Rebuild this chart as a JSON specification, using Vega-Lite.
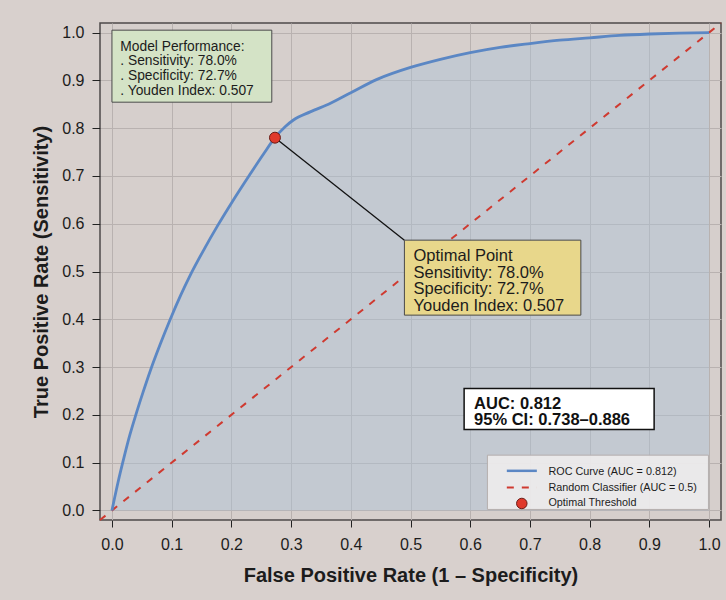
{
  "$schema": "https://vega.github.io/schema/vega-lite/v6.json",
  "width": 621,
  "height": 497,
  "autosize": {"type": "none"},
  "padding": {"left": 100, "top": 23, "right": 5, "bottom": 80},
  "background": "#d8d0cd",
  "datasets": {
    "roc": [
      {"fpr": 0, "tpr": 0},
      {"fpr": 0.01, "tpr": 0.058},
      {"fpr": 0.02, "tpr": 0.11},
      {"fpr": 0.03, "tpr": 0.158},
      {"fpr": 0.04, "tpr": 0.2},
      {"fpr": 0.052, "tpr": 0.247},
      {"fpr": 0.065, "tpr": 0.295},
      {"fpr": 0.08, "tpr": 0.345},
      {"fpr": 0.097, "tpr": 0.398},
      {"fpr": 0.115, "tpr": 0.45},
      {"fpr": 0.131, "tpr": 0.492},
      {"fpr": 0.155, "tpr": 0.548},
      {"fpr": 0.177, "tpr": 0.596},
      {"fpr": 0.2, "tpr": 0.643},
      {"fpr": 0.231, "tpr": 0.703},
      {"fpr": 0.255, "tpr": 0.748},
      {"fpr": 0.273, "tpr": 0.78},
      {"fpr": 0.29, "tpr": 0.803},
      {"fpr": 0.304, "tpr": 0.817},
      {"fpr": 0.332, "tpr": 0.834},
      {"fpr": 0.366, "tpr": 0.852},
      {"fpr": 0.4, "tpr": 0.874},
      {"fpr": 0.444, "tpr": 0.902},
      {"fpr": 0.5, "tpr": 0.927},
      {"fpr": 0.55, "tpr": 0.944},
      {"fpr": 0.6, "tpr": 0.958},
      {"fpr": 0.65, "tpr": 0.969},
      {"fpr": 0.7, "tpr": 0.977},
      {"fpr": 0.75, "tpr": 0.984},
      {"fpr": 0.8, "tpr": 0.989},
      {"fpr": 0.85, "tpr": 0.994},
      {"fpr": 0.9, "tpr": 0.997},
      {"fpr": 0.95, "tpr": 0.999},
      {"fpr": 1.0, "tpr": 1.0}
    ],
    "optimal": [{"fpr": 0.273, "tpr": 0.78}],
    "one": [{}]
  },
  "config": {
    "font": "Liberation Sans",
    "view": {"fill": "#d6cfcc", "stroke": "#4d4a49", "strokeWidth": 1.5},
    "axis": {
      "domain": false,
      "grid": true,
      "gridColor": "#b9b2b0",
      "gridWidth": 1,
      "tickColor": "#222222",
      "tickWidth": 1,
      "labelFont": "Liberation Sans",
      "labelFontSize": 16,
      "labelColor": "#1c1c1c",
      "titleFont": "Liberation Sans",
      "titleFontSize": 20,
      "titleFontWeight": "bold",
      "titleColor": "#1c1c1c"
    }
  },
  "layer": [
    {
      "data": {"name": "roc"},
      "mark": {"type": "area", "interpolate": "monotone", "color": "#adc2d7", "opacity": 0.45},
      "encoding": {
        "x": {
          "field": "fpr", "type": "quantitative",
          "scale": {"domain": [-0.02, 1.02], "nice": false, "zero": false},
          "axis": {
            "title": "False Positive Rate (1 – Specificity)",
            "values": [0, 0.1, 0.2, 0.3, 0.4, 0.5, 0.6, 0.7, 0.8, 0.9, 1.0],
            "format": ".1f", "tickSize": 7, "labelPadding": 9, "titlePadding": 13,
            "labelFlush": false, "labelOverlap": false
          }
        },
        "y": {
          "field": "tpr", "type": "quantitative",
          "scale": {"domain": [-0.02, 1.02], "nice": false, "zero": false},
          "axis": {
            "title": "True Positive Rate (Sensitivity)",
            "values": [0, 0.1, 0.2, 0.3, 0.4, 0.5, 0.6, 0.7, 0.8, 0.9, 1.0],
            "format": ".1f", "tickSize": 8, "labelPadding": 8, "titlePadding": 10,
            "labelFlush": false, "labelOverlap": false
          }
        }
      }
    },
    {
      "data": {"name": "one"},
      "mark": {"type": "rule", "strokeDash": [7, 8], "strokeWidth": 2, "color": "#cf3a30"},
      "encoding": {
        "x": {"datum": -0.02, "type": "quantitative"},
        "y": {"datum": -0.02, "type": "quantitative"},
        "x2": {"datum": 1.02},
        "y2": {"datum": 1.02}
      }
    },
    {
      "data": {"name": "roc"},
      "mark": {"type": "line", "interpolate": "monotone", "color": "#5b87c4", "strokeWidth": 2.8},
      "encoding": {
        "x": {"field": "fpr", "type": "quantitative"},
        "y": {"field": "tpr", "type": "quantitative"}
      }
    },
    {
      "data": {"name": "one"},
      "mark": {"type": "rule", "color": "#111111", "strokeWidth": 1.3},
      "encoding": {
        "x": {"datum": 0.273, "type": "quantitative"},
        "y": {"datum": 0.78, "type": "quantitative"},
        "x2": {"datum": 0.4898},
        "y2": {"datum": 0.5656}
      }
    },
    {
      "data": {"name": "optimal"},
      "mark": {"type": "point", "filled": true, "fill": "#e0392b", "stroke": "#6a1c16", "strokeWidth": 1, "size": 120, "opacity": 1},
      "encoding": {
        "x": {"field": "fpr", "type": "quantitative"},
        "y": {"field": "tpr", "type": "quantitative"}
      }
    },
    {
      "data": {"name": "one"},
      "mark": {"type": "rect", "fill": "#d4e3c6", "stroke": "#4a4a4a", "strokeWidth": 1},
      "encoding": {
        "x": {"datum": 0.0, "type": "quantitative"},
        "x2": {"datum": 0.2677},
        "y": {"datum": 1.005, "type": "quantitative"},
        "y2": {"datum": 0.8543}
      }
    },
    {
      "data": {"name": "one"},
      "mark": {"type": "text", "align": "left", "baseline": "alphabetic", "fontSize": 13.8, "lineHeight": 14.6, "color": "#1c1c1c",
        "text": ["Model Performance:", ". Sensitivity: 78.0%", ". Specificity: 72.7%", ". Youden Index: 0.507"]},
      "encoding": {
        "x": {"datum": 0.014, "type": "quantitative"},
        "y": {"datum": 0.962, "type": "quantitative"}
      }
    },
    {
      "data": {"name": "one"},
      "mark": {"type": "rect", "fill": "#e8d78b", "stroke": "#4a4a4a", "strokeWidth": 1},
      "encoding": {
        "x": {"datum": 0.4898, "type": "quantitative"},
        "x2": {"datum": 0.7853},
        "y": {"datum": 0.5656, "type": "quantitative"},
        "y2": {"datum": 0.4087}
      }
    },
    {
      "data": {"name": "one"},
      "mark": {"type": "text", "align": "left", "baseline": "alphabetic", "fontSize": 16.5, "lineHeight": 16.5, "color": "#1c1c1c",
        "text": ["Optimal Point", "Sensitivity: 78.0%", "Specificity: 72.7%", "Youden Index: 0.507"]},
      "encoding": {
        "x": {"datum": 0.505, "type": "quantitative"},
        "y": {"datum": 0.521, "type": "quantitative"}
      }
    },
    {
      "data": {"name": "one"},
      "mark": {"type": "rect", "fill": "#ffffff", "stroke": "#111111", "strokeWidth": 1.5},
      "encoding": {
        "x": {"datum": 0.5898, "type": "quantitative"},
        "x2": {"datum": 0.908},
        "y": {"datum": 0.2553, "type": "quantitative"},
        "y2": {"datum": 0.1695}
      }
    },
    {
      "data": {"name": "one"},
      "mark": {"type": "text", "align": "left", "baseline": "alphabetic", "fontSize": 16.5, "fontWeight": "bold", "lineHeight": 16.5, "color": "#111111",
        "text": ["AUC: 0.812", "95% CI: 0.738–0.886"]},
      "encoding": {
        "x": {"datum": 0.6065, "type": "quantitative"},
        "y": {"datum": 0.2125, "type": "quantitative"}
      }
    },
    {
      "data": {"name": "one"},
      "mark": {"type": "rect", "fill": "#eeecec", "fillOpacity": 0.9, "stroke": "#b5afae", "strokeWidth": 1},
      "encoding": {
        "x": {"datum": 0.6288, "type": "quantitative"},
        "x2": {"datum": 0.999},
        "y": {"datum": 0.1157, "type": "quantitative"},
        "y2": {"datum": 0.0021}
      }
    },
    {
      "data": {"name": "one"},
      "mark": {"type": "rule", "color": "#5b87c4", "strokeWidth": 2.5},
      "encoding": {
        "x": {"datum": 0.6613, "type": "quantitative"},
        "x2": {"datum": 0.7116},
        "y": {"datum": 0.0829, "type": "quantitative"}
      }
    },
    {
      "data": {"name": "one"},
      "mark": {"type": "rule", "color": "#cf3a30", "strokeWidth": 2, "strokeDash": [7, 8]},
      "encoding": {
        "x": {"datum": 0.6613, "type": "quantitative"},
        "x2": {"datum": 0.7116},
        "y": {"datum": 0.0481, "type": "quantitative"}
      }
    },
    {
      "data": {"name": "one"},
      "mark": {"type": "point", "filled": true, "fill": "#e0392b", "stroke": "#6a1c16", "strokeWidth": 1, "size": 110, "opacity": 1},
      "encoding": {
        "x": {"datum": 0.6864, "type": "quantitative"},
        "y": {"datum": 0.0146, "type": "quantitative"}
      }
    },
    {
      "data": {"name": "one"},
      "mark": {"type": "text", "align": "left", "baseline": "middle", "fontSize": 10.8, "color": "#1c1c1c", "text": "ROC Curve (AUC = 0.812)"},
      "encoding": {
        "x": {"datum": 0.731, "type": "quantitative"},
        "y": {"datum": 0.08, "type": "quantitative"}
      }
    },
    {
      "data": {"name": "one"},
      "mark": {"type": "text", "align": "left", "baseline": "middle", "fontSize": 10.8, "color": "#1c1c1c", "text": "Random Classifier (AUC = 0.5)"},
      "encoding": {
        "x": {"datum": 0.731, "type": "quantitative"},
        "y": {"datum": 0.047, "type": "quantitative"}
      }
    },
    {
      "data": {"name": "one"},
      "mark": {"type": "text", "align": "left", "baseline": "middle", "fontSize": 10.8, "color": "#1c1c1c", "text": "Optimal Threshold"},
      "encoding": {
        "x": {"datum": 0.731, "type": "quantitative"},
        "y": {"datum": 0.0146, "type": "quantitative"}
      }
    }
  ]
}
